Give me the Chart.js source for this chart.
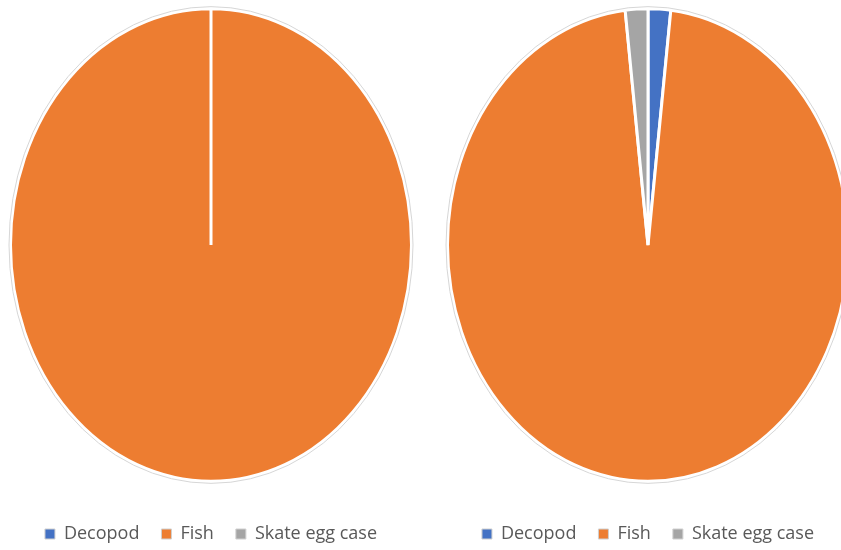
<!DOCTYPE html>
<html lang="en">
<head>
  <meta charset="UTF-8">
  <title>Diet composition</title>
  <script src="https://cdn.jsdelivr.net/npm/chart.js"></script>
  <style>
    html, body { margin: 0; padding: 0; background: #fff; overflow: hidden; }
    .wrap { position: absolute; top: 0; width: 420px; height: 550px; }
    #left { left: 1px; }
    #right { left: 438px; }
  </style>
</head>
<body>
  <div class="wrap" id="left"><canvas id="pieLeft"></canvas></div>
  <div class="wrap" id="right"><canvas id="pieRight"></canvas></div>
  <script>
    const categories = ['Decopod', 'Fish', 'Skate egg case'];
    const leftValues = [0, 100, 0];
    const rightValues = [1, 53, 1];
    const colors = ['#4472C4', '#ED7D31', '#A5A5A5'];

    // stretch the pie vertically into an ellipse, like the original
    const stretchY = 1.18;
    const centreY = 245;
    const ellipsePlugin = {
      id: 'ellipse',
      beforeDatasetsDraw(chart) {
        const arc = chart.getDatasetMeta(0).data[0];
        const ctx = chart.ctx;
        ctx.save();
        ctx.translate(arc.x, centreY);
        ctx.scale(1, stretchY);
        ctx.translate(-arc.x, -arc.y);
      },
      afterDatasetsDraw(chart) {
        // thin grey rim just outside the white border
        const arc = chart.getDatasetMeta(0).data[0];
        const ctx = chart.ctx;
        ctx.beginPath();
        ctx.arc(arc.x, arc.y, arc.outerRadius + 1.5, 0, Math.PI * 2);
        ctx.restore();
        ctx.strokeStyle = '#d6d6d6';
        ctx.lineWidth = 1;
        ctx.stroke();
      }
    };

    const makePie = (id, values) => {
      const ctx = document.getElementById(id).getContext('2d');
      return new Chart(ctx, {
        type: 'pie',
        data: {
          labels: categories,
          datasets: [{
            data: values,
            backgroundColor: colors,
            borderColor: '#ffffff',
            borderWidth: 3
          }]
        },
        options: {
          responsive: true,
          maintainAspectRatio: false,
          animation: false,
          layout: { padding: { left: 8, right: 8, top: 0, bottom: -3 } },
          plugins: {
            tooltip: { enabled: false },
            legend: {
              position: 'bottom',
              labels: {
                boxWidth: 10,
                boxHeight: 10,
                padding: 22,
                color: '#595959',
                font: { family: 'Open Sans', size: 18 },
                generateLabels(chart) {
                  const items = Chart.overrides.pie.plugins.legend.labels.generateLabels(chart);
                  items.forEach(item => {
                    item.strokeStyle = '#d0d0d0';
                    item.lineWidth = 1;
                  });
                  return items;
                }
              }
            }
          }
        },
        plugins: [ellipsePlugin]
      });
    };

    makePie('pieLeft', leftValues);
    makePie('pieRight', rightValues);
  </script>
</body>
</html>
